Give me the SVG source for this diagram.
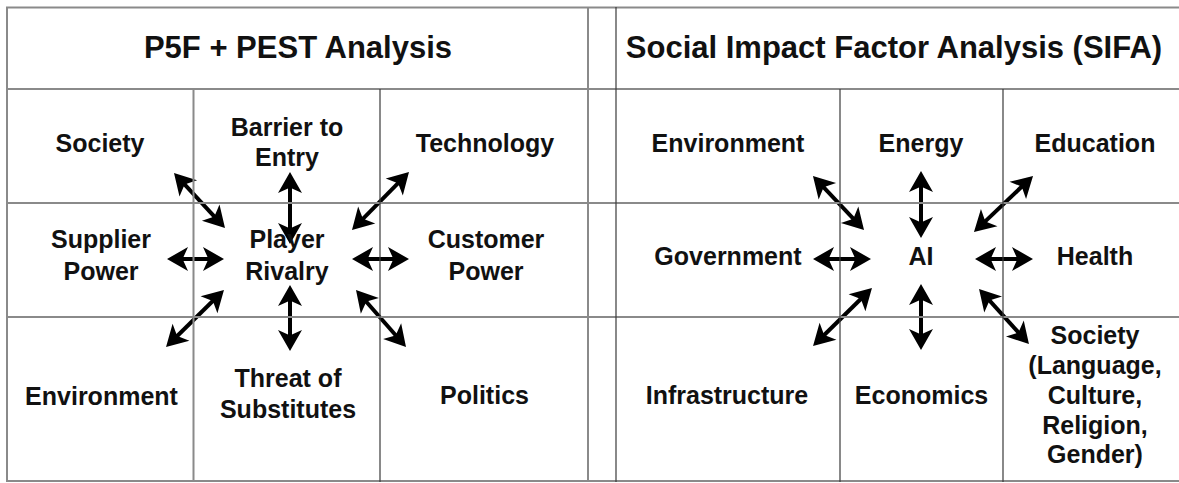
<svg xmlns="http://www.w3.org/2000/svg" width="1179" height="483" viewBox="0 0 1179 483">
<style>
text{font-family:"Liberation Sans",Arial,sans-serif;font-weight:bold;fill:#111;text-anchor:middle}
.t{font-size:31px}
.l{font-size:25px}
.g{stroke:#8a8a8a;stroke-width:2;fill:none}
.d{stroke:#3a3a3a;stroke-width:1.2;fill:none}
.a{stroke:#000;stroke-width:4;fill:none;marker-start:url(#ah);marker-end:url(#ah)}
</style>
<defs>
<marker id="ah" markerUnits="userSpaceOnUse" markerWidth="34" markerHeight="34" viewBox="-24 -17 34 34" refX="0" refY="0" orient="auto-start-reverse">
<path d="M5,0 L-16,-12 L-11.5,-2 L-11.5,2 L-16,12 Z" fill="#000"/>
</marker>
</defs>
<rect width="1179" height="483" fill="#fff"/>
<g id="connectors">
<line class="a" x1="177.4" y1="176.7" x2="221.6" y2="224.3"/>
<line class="a" x1="290" y1="177" x2="290" y2="239"/>
<line class="a" x1="405.5" y1="175.6" x2="355.5" y2="226.4"/>
<line class="a" x1="172" y1="259" x2="219" y2="259"/>
<line class="a" x1="357" y1="259" x2="404" y2="259"/>
<line class="a" x1="220.4" y1="293.5" x2="169.6" y2="343.5"/>
<line class="a" x1="290" y1="290" x2="290" y2="346"/>
<line class="a" x1="359.3" y1="293.8" x2="402.7" y2="343.2"/>
<line class="a" x1="816.4" y1="179.6" x2="860.6" y2="226.4"/>
<line class="a" x1="921" y1="176" x2="921" y2="233"/>
<line class="a" x1="1029.4" y1="179.4" x2="977.6" y2="228.6"/>
<line class="a" x1="818" y1="259" x2="866" y2="259"/>
<line class="a" x1="980" y1="259" x2="1028" y2="259"/>
<line class="a" x1="868.4" y1="291.5" x2="816.6" y2="342.5"/>
<line class="a" x1="921" y1="289" x2="921" y2="345"/>
<line class="a" x1="982.4" y1="292.7" x2="1025.6" y2="340.3"/>
</g>
<g id="grid">
<line class="g" x1="6" y1="7.5" x2="1179" y2="7.5"/>
<line class="g" x1="6" y1="89" x2="1179" y2="89"/>
<line class="g" x1="6" y1="203" x2="1179" y2="203"/>
<line class="g" x1="6" y1="317" x2="1179" y2="317"/>
<line class="g" x1="6" y1="481" x2="1179" y2="481"/>
<line class="g" x1="7" y1="7" x2="7" y2="482"/>
<line class="g" x1="588" y1="7" x2="588" y2="482"/>
<line class="d" x1="616" y1="7" x2="616" y2="482"/>
<line class="g" x1="193.5" y1="89" x2="193.5" y2="482"/>
<line class="d" x1="380" y1="89" x2="380" y2="482"/>
<line class="d" x1="840" y1="89" x2="840" y2="482"/>
<line class="d" x1="1003" y1="89" x2="1003" y2="482"/>
</g>
<g id="title-p5f"><text class="t" x="298" y="58">P5F + PEST Analysis</text></g>
<g id="title-sifa"><text class="t" x="894" y="58">Social Impact Factor Analysis (SIFA)</text></g>
<g id="society-l"><text class="l" x="100" y="152">Society</text></g>
<g id="barrier"><text class="l" x="287" y="136">Barrier to</text><text class="l" x="287" y="166">Entry</text></g>
<g id="technology"><text class="l" x="485" y="152">Technology</text></g>
<g id="supplier"><text class="l" x="101" y="248">Supplier</text><text class="l" x="101" y="280">Power</text></g>
<g id="rivalry"><text class="l" x="287" y="248">Player</text><text class="l" x="287" y="280">Rivalry</text></g>
<g id="customer"><text class="l" x="486" y="248">Customer</text><text class="l" x="486" y="280">Power</text></g>
<g id="environment-l"><text class="l" x="101.5" y="405">Environment</text></g>
<g id="threat"><text class="l" x="288" y="387">Threat of</text><text class="l" x="288" y="418">Substitutes</text></g>
<g id="politics"><text class="l" x="484.5" y="404">Politics</text></g>
<g id="environment-r"><text class="l" x="728" y="152">Environment</text></g>
<g id="energy"><text class="l" x="921" y="152">Energy</text></g>
<g id="education"><text class="l" x="1095" y="152">Education</text></g>
<g id="government"><text class="l" x="728" y="265">Government</text></g>
<g id="ai"><text class="l" x="921" y="265">AI</text></g>
<g id="health"><text class="l" x="1095" y="265">Health</text></g>
<g id="infrastructure"><text class="l" x="727" y="404">Infrastructure</text></g>
<g id="economics"><text class="l" x="921.5" y="404">Economics</text></g>
<g id="society-r"><text class="l" x="1095" y="344">Society</text><text class="l" x="1095" y="374">(Language,</text><text class="l" x="1095" y="404">Culture,</text><text class="l" x="1095" y="434">Religion,</text><text class="l" x="1095" y="463">Gender)</text></g>
</svg>
